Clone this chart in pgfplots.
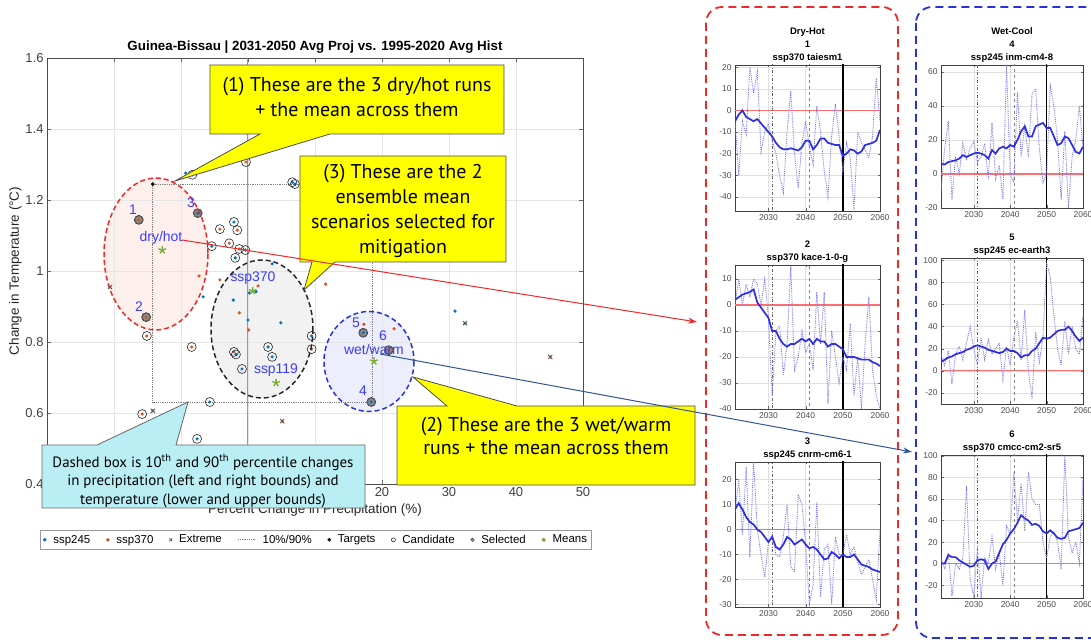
\documentclass[border=0pt]{standalone}
\usepackage{pgfplots}
\pgfplotsset{compat=1.18}
\usepackage{pgfplotstable}
\usetikzlibrary{arrows.meta}
\usepackage{fontspec}
\setmainfont{Liberation Sans}
\newfontfamily\cfont{PT Sans}

\definecolor{c245}{RGB}{0,114,189}
\definecolor{c370}{RGB}{217,83,25}
\definecolor{cgreen}{RGB}{119,172,48}
\definecolor{lblue}{RGB}{60,60,255}
\definecolor{dotblue}{RGB}{120,120,255}
\definecolor{solblue}{RGB}{45,45,230}
\definecolor{zred}{RGB}{255,110,110}
\definecolor{cyanbox}{RGB}{185,238,245}
\definecolor{yel}{RGB}{255,255,0}
\definecolor{arrowblue}{RGB}{47,85,151}
\definecolor{boxred}{RGB}{240,40,40}
\definecolor{boxblue}{RGB}{40,50,220}

\pgfplotstableread{
yr ann sm
2021 -5 -5
2022 -30 -2
2023 -5 0
2024 -11 -3
2025 20 -4
2026 8 -5
2027 18 -4
2028 -19 -6
2029 -10 -8
2030 -6 -10
2031 -14 -12
2032 -20 -15
2033 -30 -17
2034 -38 -18
2035 -10 -18
2036 9 -17.5
2037 -20 -18
2038 -36 -18.5
2039 -15 -17
2040 -5 -14
2041 -17 -14
2042 -25 -18
2043 2 -16
2044 -10 -13
2045 -28 -13
2046 -40 -15
2047 -12 -15.5
2048 3 -16
2049 -12 -16
2050 -28 -21
2051 -15 -20
2052 -22 -18
2053 -46 -18.5
2054 -10 -20
2055 -15 -19
2056 -18 -16
2057 -22 -15.5
2058 -12 -15
2059 15 -14
2060 -5 -9
}\tA
\pgfplotstableread{
yr ann sm
2021 0 2
2022 10 3
2023 0 4
2024 8 4.5
2025 3 5
2026 10 6
2027 8 1
2028 0 -1
2029 10 -3
2030 -5 -5
2031 -35 -10
2032 -10 -10
2033 -8 -13
2034 -27 -15
2035 -15 -16
2036 15 -15
2037 -25 -15
2038 -20 -14
2039 -10 -13
2040 -18 -14
2041 -15 -13
2042 -25 -15
2043 5 -13
2044 -15 -14
2045 5 -14
2046 -38 -16
2047 -10 -15
2048 -20 -15
2049 -30 -16
2050 -20 -17
2051 -25 -20
2052 -7 -20
2053 -35 -20
2054 -20 -20.5
2055 -40 -21
2056 -15 -21
2057 3 -21
2058 -25 -22
2059 -35 -22.5
2060 -40 -23.5
}\tB
\pgfplotstableread{
yr ann sm
2021 7 8
2022 20 10.5
2023 -2 8
2024 25 5
2025 -11 3
2026 27 2
2027 0 0
2028 -10 -1
2029 -19 -3
2030 -5 -5
2031 -2 -3
2032 -10 -7
2033 -11 -8
2034 -3 -6
2035 10 -3
2036 -15 -4
2037 -17 -6
2038 14 -5
2039 10 -4
2040 -6 -6
2041 -30 -7.5
2042 -22 -7
2043 11 -8
2044 -27 -10
2045 -8 -12
2046 -6 -11.5
2047 -30 -9
2048 -3 -10
2049 -10 -11.5
2050 -10 -10
2051 -2 -11
2052 -10 -11
2053 -7 -10
2054 -13 -12
2055 -18 -14
2056 -15 -14.5
2057 -12 -15
2058 -20 -16
2059 -28 -16.5
2060 0 -17
}\tC
\pgfplotstableread{
yr ann sm
2021 -10 6
2022 15 5.5
2023 31 7
2024 -15 7.5
2025 10 8
2026 0 9
2027 18 11
2028 8 10
2029 15 11
2030 19 12
2031 7 12.5
2032 10 12
2033 18 11
2034 -3 9
2035 30 14
2036 -3 12
2037 5 15
2038 -15 16
2039 64 15
2040 0 17
2041 -5 16
2042 48 20
2043 10 25
2044 28 28
2045 10 22
2046 47 22
2047 50 28
2048 15 29
2049 -5 30
2050 0 27
2051 52 27
2052 40 22
2053 20 17
2054 -15 18
2055 25 22
2056 -20 21
2057 10 17
2058 20 13
2059 40 12
2060 15 16
}\tD
\pgfplotstableread{
yr ann sm
2021 15 8
2022 5 10
2023 18 12
2024 -12 13
2025 15 15
2026 22 16
2027 10 17
2028 25 19
2029 40 20
2030 20 22
2031 5 23
2032 30 22
2033 10 21
2034 28 19
2035 15 18
2036 20 17
2037 25 16
2038 -8 17
2039 22 20
2040 5 18
2041 30 18
2042 45 16
2043 10 12
2044 55 14
2045 0 14
2046 -25 18
2047 35 20
2048 8 25
2049 30 30
2050 98 29
2051 85 30
2052 50 33
2053 20 36
2054 5 37
2055 45 37
2056 15 40
2057 40 36
2058 20 31
2059 15 27
2060 50 30
}\tE
\pgfplotstableread{
yr ann sm
2021 5 0
2022 -5 0
2023 10 8
2024 -30 6
2025 0 6
2026 -5 3
2027 5 1
2028 72 -1
2029 -15 -3
2030 -30 -2
2031 15 3
2032 -32 4
2033 5 3
2034 0 -5
2035 25 0
2036 -5 2
2037 10 10
2038 -20 18
2039 35 22
2040 28 28
2041 85 32
2042 40 38
2043 75 45
2044 30 42
2045 85 40
2046 60 36
2047 55 37
2048 55 35
2049 20 30
2050 5 28
2051 25 31
2052 30 28
2053 20 24
2054 -5 23
2055 100 24
2056 25 30
2057 10 31
2058 20 32
2059 0 33
2060 80 38
}\tF

\pgfplotsset{
 smallax/.style={scale only axis, xmin=2021, xmax=2060, xtick={2030,2040,2050,2060},
  grid=major, major grid style={black!12}, tick align=inside,
  axis line style={black!75, line width=0.6bp}, tick style={black!60},
  tick label style={font=\fontsize{8.5}{9}\selectfont, text=black!70},
  /pgf/number format/assume math mode=true, /pgf/number format/1000 sep={},
  title style={font=\bfseries\fontsize{9.5}{13}\selectfont, align=center, at={(0.5,1)}, anchor=south, inner sep=2bp, yshift=-6bp},
  major tick length=2.5bp},
}
\newcommand{\smallplot}[1]{%
 \addplot[zred, line width=1.2bp] coordinates {(2021,0) (2060,0)};
 \addplot[black!60, line width=0.6bp, dash dot] coordinates {(2031,-200) (2031,200)};
 \addplot[black!50, line width=0.6bp, dashed] coordinates {(2041,-200) (2041,200)};
 \addplot[black, line width=1.4bp] coordinates {(2050,-200) (2050,200)};
 \addplot[dotblue, densely dotted, line width=0.9bp] table[x=yr,y=ann] {#1};
 \addplot[solblue, line width=1.7bp] table[x=yr,y=sm] {#1};
}

\begin{document}
\begin{tikzpicture}
% ellipse fills (background)
\begin{scope}[x=1bp,y=-1bp,shift={(0bp,640bp)}]
\fill[fill={rgb,255:red,253;green,240;blue,236}] (156,254) ellipse [x radius=52, y radius=76];
\fill[fill={rgb,255:red,242;green,242;blue,242}] (262,329) ellipse [x radius=51, y radius=69];
\fill[fill={rgb,255:red,236;green,238;blue,252}] (369,361.5) ellipse [x radius=45, y radius=50];
\end{scope}

\begin{axis}[at={(47bp,156bp)}, anchor=south west, scale only axis, width=536bp, height=426bp,
 xmin=-30, xmax=50, ymin=0.4, ymax=1.6,
 xtick={-30,-20,-10,0,10,20,30,40,50}, xticklabels={,,,,,20,30,40,50},
 ytick={0.4,0.6,0.8,1,1.2,1.4,1.6},
 grid=major, major grid style={black!10}, tick align=inside, axis line style={black!70}, tick style={black!60},
 tick label style={font=\fontsize{13}{14}\selectfont, text=black!75}, /pgf/number format/assume math mode=true,
 title={Guinea-Bissau | 2031-2050 Avg Proj vs. 1995-2020 Avg Hist},
 title style={font=\bfseries\fontsize{13.4}{14}\selectfont, yshift=-5bp},
 xlabel={Percent Change in Precipitation (\%)}, ylabel={Change in Temperature (°C)},
 label style={font=\fontsize{13.5}{14}\selectfont, text=black!85},
 ylabel style={yshift=-3bp},
 legend columns=8, legend cell align=left,
 legend style={at={(0.502,-0.131)}, anchor=center, draw=black!40, font=\fontsize{11.5}{12}\selectfont,
   /tikz/every even column/.append style={column sep=14bp},
   /tikz/every odd column/.append style={column sep=5bp}, inner sep=2.5bp},
]
\addplot[zred, line width=1bp, forget plot] coordinates {(0,0.4) (0,1.6)};
\addplot[only marks, mark=*, mark size=1.4bp, c245, legend image post style={mark size=1.6bp}] coordinates {
(-9.3,1.276) (-8.3,1.271) (6.6,1.250) (7.0,1.245) (-7.5,1.163) (-2.1,1.138) (-5.4,1.070) (-0.4,1.059)
(-1.9,1.037) (3.6,1.020) (-6.7,0.927) (-2.2,0.918) (0.2,0.938) (1.2,0.942) (0.0,0.862) (4.9,0.854)
(9.5,0.817) (17.2,0.826) (-1.8,0.765) (3.0,0.786) (3.6,0.758) (-0.9,0.724) (-5.7,0.631) (-7.6,0.527)
(-14.2,0.606) (30.9,0.887) (32.4,0.853) (18.4,0.631)};
\addlegendentry{ssp245}
\addplot[only marks, mark=*, mark size=1.4bp, c370, legend image post style={mark size=1.6bp}] coordinates {
(-16.3,1.144) (-4.2,1.118) (-1.6,1.115) (-2.8,1.078) (-1.3,1.062) (-0.3,1.307) (-7.3,0.986) (-4.2,0.975)
(1.5,0.958) (11.6,0.963) (-1.3,0.882) (0.1,0.834) (9.5,0.780) (-2.1,0.772) (-15.2,0.870) (-15.1,0.817)
(-8.4,0.786) (-15.8,0.597) (-20.6,0.955) (45.1,0.758) (5.1,0.577) (17.3,0.850) (21.8,0.837) (21.0,0.777)};
\addlegendentry{ssp370}
\addplot[only marks, mark=x, mark size=3bp, black!65, line width=0.8bp, legend image post style={mark size=2bp}] coordinates {
(-20.6,0.955) (-14.2,0.606) (32.4,0.853) (45.1,0.758) (5.1,0.577)};
\addlegendentry{Extreme}
\addplot[black!50, densely dotted, line width=0.8bp] coordinates {
(-14.2,1.245) (18.5,1.245) (18.5,0.631) (-14.2,0.631) (-14.2,1.245)};
\addlegendentry{10\%/90\%}
\addplot[only marks, mark=*, mark size=1.6bp, black, legend image post style={mark size=1.6bp}] coordinates {
(-14.2,1.245) (18.5,0.631)};
\addlegendentry{Targets}
\addplot[only marks, mark=o, mark size=4.5bp, black!85, line width=0.6bp, legend image post style={mark size=2bp}] coordinates {
(-8.3,1.271) (6.6,1.250) (7.0,1.245) (-0.3,1.307) (-16.3,1.144) (-7.5,1.163) (-4.2,1.118) (-2.1,1.138)
(-1.6,1.115) (-5.4,1.070) (-2.8,1.078) (-1.3,1.062) (-0.4,1.059) (-1.9,1.037) (-15.2,0.870) (-15.1,0.817)
(-8.4,0.786) (-2.1,0.772) (-1.8,0.765) (3.0,0.786) (3.6,0.758) (-0.9,0.724) (9.5,0.817) (9.5,0.780)
(-5.7,0.631) (-15.8,0.597) (-7.6,0.527) (17.2,0.826) (21.0,0.777) (18.4,0.631)};
\addlegendentry{Candidate}
\addplot[only marks, mark=*, mark size=3.8bp, fill=black!45, draw=black!70, line width=0.5bp, legend image post style={mark size=1.8bp}] coordinates {
(-16.3,1.144) (-15.2,0.870) (-7.5,1.163) (18.4,0.631) (17.2,0.826) (21.0,0.777)};
\addlegendentry{Selected}
\addplot[only marks, mark=star, mark size=4bp, cgreen, line width=1.3bp, legend image post style={mark size=2bp}] coordinates {
(-12.8,1.059) (0.7,0.944) (4.2,0.685) (18.8,0.746)};
\addlegendentry{Means}
\addplot[only marks, mark=*, mark size=1.4bp, c245, forget plot] coordinates {(-7.5,1.163) (17.2,0.826) (18.4,0.631)};
\addplot[only marks, mark=*, mark size=1.4bp, c370, forget plot] coordinates {(-16.3,1.144) (-15.2,0.870) (21.0,0.777)};
\end{axis}

\begin{scope}[x=1bp,y=-1bp,shift={(0bp,640bp)}]
% ellipse outlines
\draw[boxred, line width=1.5bp, dash pattern=on 5bp off 3bp] (156,254) ellipse [x radius=52, y radius=76];
\draw[black!85, line width=1.5bp, dash pattern=on 5bp off 3bp] (262,329) ellipse [x radius=51, y radius=69];
\draw[boxblue, line width=1.5bp, dash pattern=on 5bp off 3bp] (369,361.5) ellipse [x radius=45, y radius=50];
% blue labels
\begin{scope}[every node/.style={text=lblue, font=\fontsize{14}{14}\selectfont, inner sep=0pt}]
\node at (133,210) {1};
\node at (191,203) {3};
\node at (139,307) {2};
\node at (161,238) {dry/hot};
\node at (253,278) {ssp370};
\node at (276,370) {ssp119};
\node at (356,323) {5};
\node at (383,336) {6};
\node at (374,350) {wet/warm};
\node at (363,391) {4};
\end{scope}
% dashed rounded boxes
\draw[boxred, line width=1.8bp, dash pattern=on 8bp off 5bp, rounded corners=16bp] (706,7) rectangle (898,635);
\draw[boxblue, line width=1.8bp, dash pattern=on 8bp off 5bp, rounded corners=16bp] (916,7) rectangle (1110,638);
\end{scope}

% small plots
\begin{axis}[smallax, at={(735bp,429bp)}, anchor=south west, width=145bp, height=146bp,
 ymin=-46.5, ymax=21, ytick={-40,-30,-20,-10,0,10,20}, title={Dry-Hot\\1\\ssp370 taiesm1}]
\smallplot{\tA}
\end{axis}
\begin{axis}[smallax, at={(735bp,231bp)}, anchor=south west, width=145bp, height=144bp,
 ymin=-40, ymax=15.4, ytick={-40,-30,-20,-10,0,10}, title={2\\ssp370 kace-1-0-g}]
\smallplot{\tB}
\end{axis}
\begin{axis}[smallax, at={(735bp,33bp)}, anchor=south west, width=145bp, height=145bp,
 ymin=-31, ymax=27, ytick={-30,-20,-10,0,10,20}, title={3\\ssp245 cnrm-cm6-1}]
\smallplot{\tC}
\end{axis}
\begin{axis}[smallax, at={(941bp,432bp)}, anchor=south west, width=142bp, height=143bp,
 ymin=-20, ymax=64, ytick={-20,0,20,40,60}, title={Wet-Cool\\4\\ssp245 inm-cm4-8}]
\smallplot{\tD}
\end{axis}
\begin{axis}[smallax, at={(941bp,236bp)}, anchor=south west, width=142bp, height=146bp,
 ymin=-30, ymax=102, ytick={-20,0,20,40,60,80,100}, title={5\\ssp245 ec-earth3}]
\smallplot{\tE}
\end{axis}
\begin{axis}[smallax, at={(941bp,42bp)}, anchor=south west, width=142bp, height=143bp,
 ymin=-32, ymax=101, ytick={-20,0,20,40,60,80,100}, title={6\\ssp370 cmcc-cm2-sr5}]
\smallplot{\tF}
\end{axis}

\begin{scope}[x=1bp,y=-1bp,shift={(0bp,640bp)}]
% callouts
\filldraw[fill=yel, draw=black!70, line width=0.8bp] (210,65) -- (504,65) -- (504,134) -- (330,134) -- (175,181) -- (260,134) -- (210,134) -- cycle;
\node[font=\cfont\fontsize{20}{26}\selectfont, align=center] at (357,97) {(1) These are the 3 dry/hot runs\\+ the mean across them};
\filldraw[fill=yel, draw=black!70, line width=0.8bp] (300,156) -- (506,156) -- (506,262) -- (335,262) -- (304,290) -- (312,262) -- (300,262) -- cycle;
\node[font=\cfont\fontsize{20}{25}\selectfont, align=center] at (403,211) {(3) These are the 2\\ensemble mean\\scenarios selected for\\mitigation};
\filldraw[fill=yel, draw=black!70, line width=0.8bp] (397,406) -- (447,406) -- (413,377) -- (517,406) -- (695,406) -- (695,485) -- (397,485) -- cycle;
\node[font=\cfont\fontsize{20}{24}\selectfont, align=center] at (546,436) {(2) These are the 3 wet/warm\\runs + the mean across them};
\filldraw[fill=cyanbox, draw=black!60, line width=0.8bp] (42,445) -- (97,445) -- (188,402) -- (176,445) -- (365,445) -- (365,508) -- (42,508) -- cycle;
\node[font=\cfont\fontsize{15}{18.5}\selectfont, align=center] at (203,481) {Dashed box is 10\textsuperscript{th} and 90\textsuperscript{th} percentile changes\\in precipitation (left and right bounds) and\\temperature (lower and upper bounds)};
% arrows
\draw[boxred, line width=1bp, -{Stealth[length=9bp,width=6bp]}] (182,240) -- (697,322);
\draw[arrowblue, line width=1bp, -{Stealth[length=9bp,width=6bp]}] (380,354) -- (912,452);
\end{scope}

\pgfresetboundingbox
\path[use as bounding box] (0,0) rectangle (1091bp,640bp);
\end{tikzpicture}
\end{document}
